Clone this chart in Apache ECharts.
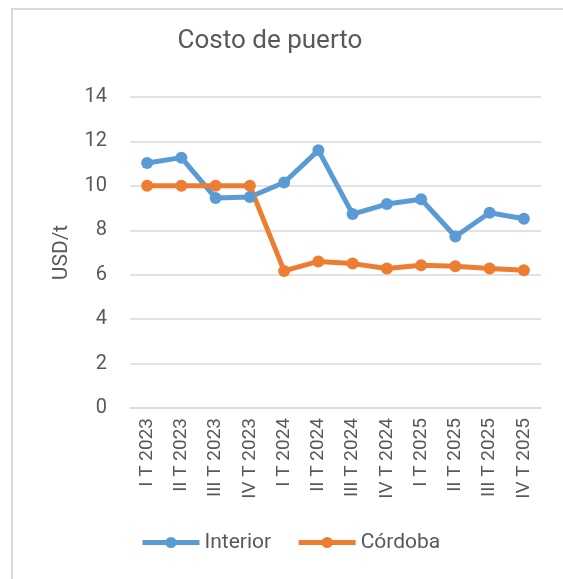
<!DOCTYPE html>
<html>
<head>
<meta charset="utf-8">
<script src="https://cdn.jsdelivr.net/npm/echarts@6/dist/echarts.min.js"></script>
<style>
    body { margin: 0; background: #fff; }
    #container { width: 563px; height: 579px; }
</style>
</head>
<body>
<div id="container"></div>
<script>
// categorias (trimestres)
var categorias = ['I T 2023', 'II T 2023', 'III T 2023', 'IV T 2023',
                  'I T 2024', 'II T 2024', 'III T 2024', 'IV T 2024',
                  'I T 2025', 'II T 2025', 'III T 2025', 'IV T 2025'];
// USD/t
var interior = [11.03, 11.27, 9.45, 9.5, 10.15, 11.6, 8.73, 9.18, 9.4, 7.72, 8.79, 8.52];
var cordoba  = [10.0, 10.0, 10.0, 10.0, 6.17, 6.6, 6.5, 6.28, 6.43, 6.38, 6.28, 6.2];

var gris = '#595959';
var myChart = echarts.init(document.getElementById('container'));

var option = {
    backgroundColor: '#fff',
    animation: false,
    color: ['#5B9BD5', '#ED7D31'],
    textStyle: { fontFamily: 'Roboto, "Liberation Sans", sans-serif' },
    graphic: [{
        type: 'rect',
        shape: { x: 12, y: 9, width: 600, height: 600 },
        style: { fill: 'none', stroke: '#d9d9d9', lineWidth: 2 }
    }],
    title: {
        text: 'Costo de puerto',
        left: 270,
        top: 28,
        padding: 0,
        textAlign: 'center',
        textStyle: { color: gris, fontSize: 26, fontWeight: 'normal' }
    },
    legend: {
        top: 532,
        left: 140,
        padding: 0,
        itemWidth: 57,
        itemHeight: 14,
        itemGap: 25,
        lineStyle: { width: 5 },
        textStyle: { color: gris, fontSize: 21 },
        data: ['Interior', 'Córdoba']
    },
    grid: { left: 130, right: 22, top: 97, bottom: 171 },
    xAxis: {
        type: 'category',
        data: categorias,
        boundaryGap: true,
        axisLine: { lineStyle: { color: '#d9d9d9', width: 1.5 } },
        axisTick: { show: false },
        axisLabel: { rotate: 90, margin: 10, color: gris, fontSize: 19, interval: 0 }
    },
    yAxis: {
        type: 'value',
        min: 0,
        max: 14,
        interval: 2,
        name: 'USD/t',
        nameLocation: 'middle',
        nameGap: 58,
        nameTextStyle: { color: gris, fontSize: 21 },
        axisLine: { show: false },
        axisTick: { show: false },
        axisLabel: { color: gris, fontSize: 20, margin: 23 },
        splitLine: { lineStyle: { color: '#d9d9d9', width: 1.5 } }
    },
    series: [
        {
            name: 'Interior',
            type: 'line',
            data: interior,
            symbol: 'circle',
            symbolSize: 12,
            lineStyle: { width: 5 }
        },
        {
            name: 'Córdoba',
            type: 'line',
            data: cordoba,
            symbol: 'circle',
            symbolSize: 12,
            lineStyle: { width: 5 }
        }
    ]
};
myChart.setOption(option, true);
</script>
</body>
</html>
